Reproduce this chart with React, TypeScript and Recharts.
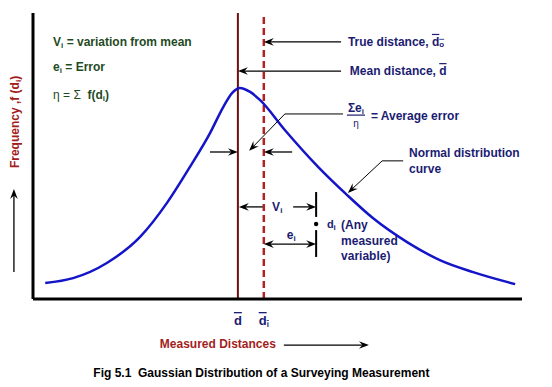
import React from 'react';
import { ComposedChart, Line, XAxis, YAxis, ReferenceLine, ReferenceDot } from 'recharts';

// skewed frequency curve (chart units 0-100 on both axes)
const distance = [2.5, 8.2, 15.1, 21.9, 27.4, 32.1, 36.2, 38.9, 40.7, 42.3, 44.4, 46.4, 51.5, 58.3, 64.2, 69.5, 76.5, 83.2, 90.0, 98.6];
const frequency = [5.6, 7.3, 12.6, 21.7, 33.6, 46.2, 58.0, 67.1, 72.0, 73.8, 72.4, 69.6, 59.1, 46.2, 36.4, 28.3, 19.9, 13.6, 9.4, 5.2];

const meanDist = 41.9; // d bar
const measDist = 47.2; // d bar i
const tickValues = [meanDist, measDist];
const tickSubs = ['', 'i'];

const data = distance.map((d, i) => ({ d, f: frequency[i] }));

const FONT = '"Liberation Sans", Arial, Helvetica, sans-serif';
const NAVY = '#1c1c72';
const GREEN = '#1f4a1f';
const RED = '#a31d1d';

type Pt = [number, number];

function head(x1: number, y1: number, x2: number, y2: number, color: string) {
  const a = Math.atan2(y2 - y1, x2 - x1);
  const c = Math.cos(a), s = Math.sin(a);
  const L = 10, W = 3.8, N = 6.5;
  const pts = [
    [x2, y2],
    [x2 - L * c + W * s, y2 - L * s - W * c],
    [x2 - N * c, y2 - N * s],
    [x2 - L * c - W * s, y2 - L * s + W * c],
  ];
  return <polygon points={pts.map((q) => q.join(',')).join(' ')} fill={color} />;
}

function arrow(key: string, from: Pt, to: Pt, opts: { start?: boolean; end?: boolean; width?: number; color?: string } = {}) {
  const { start = false, end = true, width = 1.3, color = '#000' } = opts;
  return (
    <ReferenceLine
      key={key}
      ifOverflow="visible"
      segment={[{ x: from[0], y: from[1] }, { x: to[0], y: to[1] }]}
      shape={(p: any) => {
        const { x1, y1, x2, y2 } = p;
        const len = Math.hypot(x2 - x1, y2 - y1) || 1;
        const ux = (x2 - x1) / len, uy = (y2 - y1) / len;
        const sx = start ? x1 + ux * 5 : x1, sy = start ? y1 + uy * 5 : y1;
        const ex = end ? x2 - ux * 5 : x2, ey = end ? y2 - uy * 5 : y2;
        return (
          <g>
            <line x1={sx} y1={sy} x2={ex} y2={ey} stroke={color} strokeWidth={width} />
            {end && head(x1, y1, x2, y2, color)}
            {start && head(x2, y2, x1, y1, color)}
          </g>
        );
      }}
    />
  );
}

function note(key: string, at: Pt, children: React.ReactNode, props: any = {}) {
  const { turn, ...rest } = props;
  return (
    <ReferenceDot
      key={key}
      x={at[0]}
      y={at[1]}
      r={1}
      ifOverflow="visible"
      shape={(p: any) => (
        <text
          x={p.cx}
          y={p.cy}
          dominantBaseline="central"
          fontFamily={FONT}
          fontSize={12}
          fontWeight="bold"
          transform={turn ? `rotate(${turn}, ${p.cx}, ${p.cy})` : undefined}
          {...rest}
        >
          {children}
        </text>
      )}
    />
  );
}

const sub = (t: string) => <tspan key={'s' + t} fontSize={8} dy={3}>{t}</tspan>;

function DistTick(p: any) {
  const i = p.index;
  return (
    <text x={p.x} y={p.y + 26} textAnchor="middle" fontFamily={FONT} fontSize={13} fontWeight="bold" fill={NAVY}>
      <tspan style={{ textDecoration: 'overline' }}>
        d
        {tickSubs[i] && <tspan fontSize={8} dy={2}>{tickSubs[i]}</tspan>}
      </tspan>
    </text>
  );
}

export default function App() {
  return (
    <div style={{ width: 552, height: 387, background: '#fff' }}>
      <style>{'body{margin:0}'}</style>
      <ComposedChart width={552} height={387} data={data} margin={{ top: 13, right: 30, left: 33, bottom: 58 }}>
        <XAxis
          dataKey="d"
          type="number"
          domain={[0, 100]}
          allowDataOverflow
          ticks={tickValues}
          interval={0}
          height={30}
          tickSize={0}
          tickMargin={0}
          tickLine={false}
          axisLine={{ stroke: '#000', strokeWidth: 3 }}
          tick={<DistTick />}
        />
        <YAxis type="number" domain={[0, 100]} allowDataOverflow hide />
        <ReferenceLine x={0} stroke="#000" strokeWidth={3} ifOverflow="visible" />
        <ReferenceLine x={meanDist} stroke="#6e1010" strokeWidth={2} />
        <ReferenceLine x={measDist} stroke="#b22222" strokeWidth={2.5} strokeDasharray="7 4" />
        <Line
          type="monotone"
          dataKey="f"
          stroke="#1414c8"
          strokeWidth={2.5}
          dot={false}
          activeDot={false}
          isAnimationActive={false}
        />

        {note('vi', [4.1, 89.9], [<tspan key="a">V</tspan>, sub('i'), <tspan key="b" dy={-3}> = variation from mean</tspan>], { fill: GREEN })}
        {note('ei', [4.1, 81.1], [<tspan key="a">e</tspan>, sub('i'), <tspan key="b" dy={-3}> = Error</tspan>], { fill: GREEN })}
        {note('eta', [4.1, 71.3], [
          <tspan key="a" fontWeight="normal">{'\u03b7 = \u03a3  '}</tspan>,
          <tspan key="b">f(d</tspan>, sub('i'), <tspan key="c" dy={-3}>)</tspan>,
        ], { fill: GREEN, style: { whiteSpace: 'pre' } })}

        {arrow('true', [63.0, 89.9], [measDist, 89.9])}
        {note('truet', [64.4, 89.9], [
          <tspan key="a">True distance, </tspan>,
          <tspan key="b" style={{ textDecoration: 'overline' }}>d<tspan fontSize={8} dy={2}>o</tspan></tspan>,
        ], { fill: NAVY })}
        {arrow('mean', [63.0, 79.7], [meanDist, 79.7])}
        {note('meant', [64.8, 79.7], [
          <tspan key="a">Mean distance, </tspan>,
          <tspan key="b" style={{ textDecoration: 'overline' }}>d</tspan>,
        ], { fill: NAVY })}

        {arrow('avg1', [63.4, 64.7], [51.5, 64.7], { end: false, width: 1 })}
        {arrow('avg2', [51.5, 64.7], [44.2, 51.8], { width: 1 })}
        {note('sig', [66.05, 66.8], [<tspan key="a">{'\u03a3e'}</tspan>, sub('i')], { fill: NAVY, textAnchor: 'middle' })}
        {arrow('frac', [64.2, 64.3], [67.9, 64.3], { end: false, width: 1.2, color: NAVY })}
        {note('eta2', [66.05, 61.2], '\u03b7', { fill: NAVY, textAnchor: 'middle', fontWeight: 'normal', fontSize: 10 })}
        {note('avgt', [69.1, 64.0], '= Average error', { fill: NAVY })}

        {arrow('gapL', [36.2, 51.4], [meanDist, 51.4])}
        {arrow('gapR', [53.0, 51.4], [measDist, 51.4])}

        {arrow('nd1', [75.7, 48.3], [71.4, 48.3], { end: false, width: 1 })}
        {arrow('nd2', [71.4, 48.3], [64.4, 37.1], { width: 1 })}
        {note('nd', [76.9, 51.05], 'Normal distribution', { fill: NAVY })}
        {note('nd3', [76.9, 45.45], 'curve', { fill: NAVY })}

        {arrow('viL', [47.0, 32.2], [42.1, 32.2])}
        {arrow('viR', [53.2, 32.2], [57.9, 32.2])}
        {note('vit', [48.9, 32.2], [<tspan key="a">V</tspan>, sub('i')], { fill: NAVY })}
        {arrow('tk1', [57.9, 37.4], [57.9, 28.7], { end: false, width: 2 })}
        {arrow('tk2', [57.9, 24.1], [57.9, 14.7], { end: false, width: 2 })}
        <ReferenceDot x={57.9} y={26.2} r={2.2} fill="#000" stroke="none" ifOverflow="visible" />
        {note('dit', [60.1, 26.2], [<tspan key="a" fontSize={11}>d</tspan>, sub('i')], { fill: NAVY })}
        {note('any1', [63.0, 25.9], '(Any', { fill: NAVY })}
        {note('any2', [63.0, 20.3], 'measured', { fill: NAVY })}
        {note('any3', [63.0, 15.0], 'variable)', { fill: NAVY })}
        {arrow('ei2', [measDist, 19.2], [57.9, 19.2], { start: true })}
        {note('eit', [51.9, 22.4], [<tspan key="a">e</tspan>, sub('i')], { fill: NAVY })}

        {note('ylab', [-3.7, 61.9], [<tspan key="a">Frequency ,f (d</tspan>, sub('i'), <tspan key="c" dy={-3}>)</tspan>], { fill: RED, textAnchor: 'middle', turn: -90 })}
        {arrow('yarr', [-3.9, 9.4], [-3.9, 38.5])}
        {note('xlab', [37.8, -15.7], 'Measured Distances', { fill: RED, textAnchor: 'middle' })}
        {arrow('xarr', [51.3, -16.1], [68.7, -16.1])}
        {note('cap', [46.7, -25.9], 'Fig 5.1  Gaussian Distribution of a Surveying Measurement', { fill: '#000', textAnchor: 'middle', style: { whiteSpace: 'pre' } })}
      </ComposedChart>
    </div>
  );
}
